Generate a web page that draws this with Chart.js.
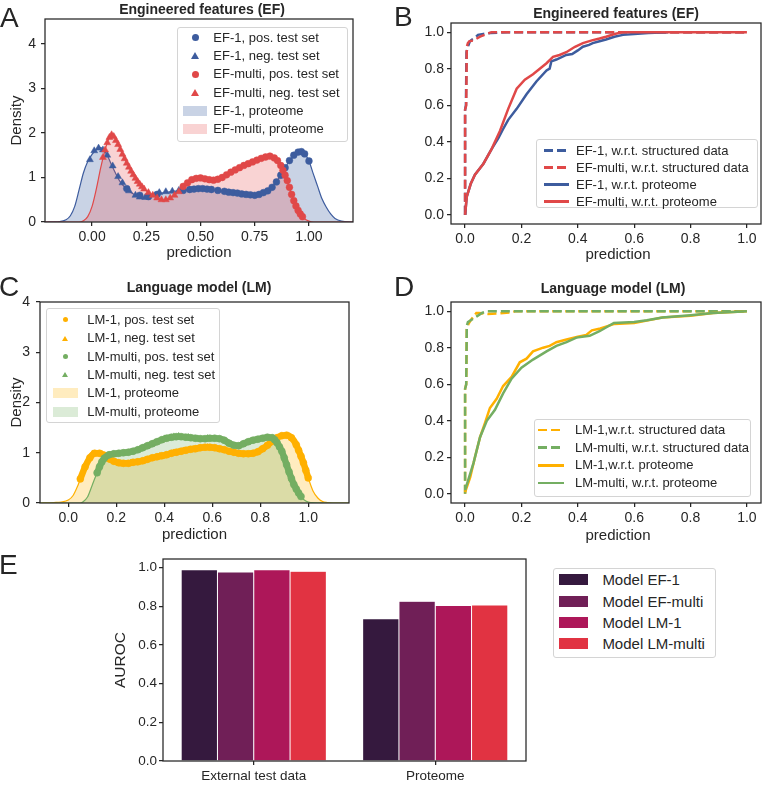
<!DOCTYPE html>
<html>
<head>
<meta charset="utf-8">
<script src="https://cdn.jsdelivr.net/npm/chart.js@4.4.1/dist/chart.umd.min.js"></script>
<style>
  body { margin: 0; background: #fff; }
  #fig { position: relative; width: 762px; height: 786px; background: #fff; overflow: hidden;
         font-family: 'Liberation Sans', Arial, Helvetica, sans-serif; color: #262626; }
  canvas { position: absolute; }
  .letter { position: absolute; font-size: 28px; line-height: 28px; }
  .ptitle { position: absolute; width: 300px; text-align: center; font-size: 14px; line-height: 14px; font-weight: bold; }
  .xlab { position: absolute; width: 200px; text-align: center; font-size: 15px; line-height: 18px; }
  .leg { position: absolute; box-sizing: border-box; border: 1px solid #d4d4d4; border-radius: 3px;
         background: rgba(255,255,255,0.8); }
  .leg div { position: absolute; white-space: nowrap; }
</style>
</head>
<body>
<div id="fig">
  <canvas id="cA" width="381" height="262" style="left:0;top:0"></canvas>
  <canvas id="cB" width="381" height="262" style="left:381px;top:0"></canvas>
  <canvas id="cC" width="381" height="282" style="left:0;top:262px"></canvas>
  <canvas id="cD" width="381" height="282" style="left:381px;top:262px"></canvas>
  <canvas id="cE" width="540" height="244" style="left:0;top:542px"></canvas>

  <div class="letter" style="left:0;top:4px">A</div>
  <div class="letter" style="left:394px;top:3px">B</div>
  <div class="letter" style="left:-1px;top:273px">C</div>
  <div class="letter" style="left:394px;top:273px">D</div>
  <div class="letter" style="left:-1px;top:551px">E</div>

  <div class="ptitle" style="left:52px;top:2px">Engineered features (EF)</div>
  <div class="ptitle" style="left:466px;top:6px">Engineered features (EF)</div>
  <div class="ptitle" style="left:49px;top:280px">Language model (LM)</div>
  <div class="ptitle" style="left:463px;top:281px">Language model (LM)</div>

  <div class="xlab" style="left:518px;top:245px">prediction</div>
  <div class="xlab" style="left:518px;top:526px">prediction</div>
</div>

<script>
const FONT = "'Liberation Sans', Arial, Helvetica, sans-serif";
const INK = '#262626';

const BLUE = '#3d5c9e', RED = '#e04848', ORANGE = '#ffb000', GREEN = '#74ae62';
const BLUE_FILL = 'rgba(76,108,170,0.30)', RED_FILL = 'rgba(232,80,80,0.25)';
const ORANGE_FILL = 'rgba(255,180,0,0.25)', GREEN_FILL = 'rgba(110,175,95,0.25)';

// ---- Panel A: engineered features, density of predictions
const aXTicks = [0, 0.25, 0.5, 0.75, 1.0];
const aXLabels = ['0.00', '0.25', '0.50', '0.75', '1.00'];
const aYTicks = [0, 1, 2, 3, 4];
const aYLabels = ['0', '1', '2', '3', '4'];

const aX_ef1Prot = [-0.217,-0.15,-0.12,-0.10,-0.08,-0.06,-0.04,-0.02,0.0,0.02,0.035,0.05,0.07,0.09,0.11,0.13,0.16,0.20,0.24,0.28,0.32,0.36,0.40,0.45,0.50,0.55,0.60,0.65,0.70,0.75,0.78,0.81,0.84,0.87,0.90,0.92,0.94,0.96,0.98,1.00,1.02,1.04,1.06,1.08,1.10,1.12,1.15,1.203];
const aY_ef1Prot = [0,0.01,0.05,0.14,0.35,0.72,1.1,1.36,1.52,1.63,1.67,1.64,1.5,1.28,1.08,0.9,0.74,0.6,0.56,0.6,0.65,0.68,0.7,0.72,0.75,0.73,0.69,0.66,0.63,0.61,0.62,0.7,0.85,1.05,1.3,1.43,1.54,1.58,1.53,1.37,1.08,0.8,0.52,0.33,0.18,0.08,0.02,0];
const aX_efmProt = [-0.217,-0.06,-0.04,-0.02,0.0,0.02,0.04,0.06,0.075,0.09,0.10,0.12,0.14,0.16,0.18,0.20,0.22,0.25,0.28,0.31,0.33,0.36,0.39,0.42,0.45,0.48,0.51,0.54,0.57,0.60,0.63,0.67,0.71,0.75,0.79,0.82,0.84,0.86,0.88,0.90,0.92,0.94,0.96,0.98,1.00,1.02,1.203];
const aY_efmProt = [0,0,0.03,0.12,0.35,0.75,1.22,1.62,1.85,1.96,1.93,1.74,1.52,1.32,1.14,0.98,0.85,0.7,0.6,0.52,0.49,0.54,0.65,0.8,0.92,0.98,0.99,0.96,0.94,1.0,1.09,1.2,1.3,1.38,1.45,1.48,1.45,1.38,1.18,0.93,0.62,0.36,0.18,0.07,0.02,0,0];

const aX_ef1Pos = [0.16,0.22,0.26,0.30,0.42,0.45,0.47,0.49,0.51,0.53,0.55,0.58,0.61,0.63,0.65,0.67,0.69,0.71,0.73,0.75,0.77,0.79,0.81,0.83,0.85,0.87,0.89,0.91,0.93,0.95,0.965,0.98,1.0];
const aY_ef1Pos = [0.75,0.6,0.57,0.62,0.71,0.73,0.74,0.75,0.75,0.74,0.73,0.71,0.69,0.67,0.66,0.65,0.63,0.62,0.61,0.6,0.62,0.66,0.7,0.78,0.9,1.05,1.22,1.38,1.5,1.57,1.58,1.53,1.37];
const aX_ef1Neg = [-0.01,0.01,0.03,0.05,0.07,0.095,0.12,0.14,0.17,0.20,0.22,0.245,0.31,0.34,0.37,0.40];
const aY_ef1Neg = [1.4,1.6,1.66,1.62,1.5,1.26,1.02,0.88,0.7,0.6,0.56,0.55,0.66,0.68,0.69,0.71];
const aX_efmPos = [0.42,0.44,0.46,0.48,0.50,0.52,0.54,0.56,0.58,0.60,0.62,0.64,0.66,0.68,0.70,0.72,0.74,0.76,0.78,0.80,0.82,0.84,0.855,0.87,0.88,0.89,0.90,0.91,0.92,0.93,0.94,0.95,0.96,0.97];
const aY_efmPos = [0.8,0.88,0.95,0.98,0.99,0.97,0.95,0.94,0.96,1.0,1.06,1.12,1.17,1.22,1.27,1.31,1.35,1.39,1.43,1.46,1.48,1.44,1.38,1.27,1.16,1.05,0.93,0.78,0.62,0.48,0.36,0.26,0.18,0.12];
const aX_efmNeg = [0.05,0.06,0.07,0.08,0.09,0.10,0.11,0.12,0.13,0.14,0.15,0.16,0.17,0.18,0.19,0.20,0.21,0.22,0.23,0.24,0.26,0.28,0.30,0.32,0.34,0.36,0.38,0.40];
const aY_efmNeg = [1.45,1.62,1.78,1.9,1.96,1.92,1.83,1.74,1.63,1.52,1.42,1.32,1.23,1.14,1.06,0.98,0.91,0.85,0.79,0.74,0.66,0.6,0.54,0.5,0.5,0.54,0.6,0.68];

const aLegend = ['EF-1, pos. test set', 'EF-1, neg. test set', 'EF-multi, pos. test set', 'EF-multi, neg. test set', 'EF-1, proteome', 'EF-multi, proteome'];

// ---- Panel B: engineered features, cumulative curves
const rocTicks = [0, 0.2, 0.4, 0.6, 0.8, 1.0];
const rocLabels = ['0.0', '0.2', '0.4', '0.6', '0.8', '1.0'];

const bX_ef1Struct = [0,0,0.003,0.005,0.01,0.017,0.025,0.034,0.046,0.065,0.09,0.15,1.0];
const bY_ef1Struct = [0,0.575,0.6,0.89,0.92,0.95,0.96,0.967,0.985,0.99,0.995,1.0,1.0];
const bX_efmStruct = [0,0,0.004,0.006,0.01,0.015,0.03,0.053,0.077,0.094,1.0];
const bY_efmStruct = [0,0.575,0.6,0.92,0.94,0.95,0.955,0.975,0.99,1.0,1.0];
const bX_ef1Prot = [0,0.006,0.02,0.035,0.065,0.094,0.118,0.135,0.153,0.183,0.218,0.253,0.289,0.30,0.306,0.324,0.359,0.38,0.40,0.418,0.44,0.453,0.477,0.50,0.53,0.56,0.60,0.65,0.72];
const bY_ef1Prot = [0,0.1,0.17,0.22,0.28,0.36,0.42,0.47,0.52,0.58,0.66,0.73,0.79,0.80,0.84,0.85,0.875,0.88,0.9,0.92,0.93,0.94,0.95,0.96,0.975,0.985,0.99,0.995,1.0];
const bX_efmProt = [0,0.006,0.02,0.035,0.065,0.094,0.124,0.153,0.183,0.212,0.241,0.265,0.289,0.312,0.335,0.359,0.39,0.418,0.45,0.477,0.50,0.53,0.56,1.0];
const bY_efmProt = [0,0.1,0.17,0.22,0.28,0.36,0.46,0.58,0.69,0.74,0.77,0.8,0.83,0.865,0.875,0.89,0.92,0.94,0.955,0.965,0.975,0.99,1.0,1.0];

const bLegend = ['EF-1, w.r.t. structured data', 'EF-multi, w.r.t. structured data', 'EF-1, w.r.t. proteome', 'EF-multi, w.r.t. proteome'];

// ---- Panel C: language model, density of predictions
const cXTicks = [0, 0.2, 0.4, 0.6, 0.8, 1.0];
const cXLabels = ['0.0', '0.2', '0.4', '0.6', '0.8', '1.0'];

const cX_lm1Prot = [-0.118,-0.06,-0.03,0.0,0.02,0.04,0.06,0.08,0.10,0.12,0.14,0.16,0.19,0.22,0.26,0.30,0.34,0.38,0.42,0.46,0.50,0.54,0.58,0.62,0.66,0.70,0.74,0.78,0.81,0.84,0.87,0.90,0.92,0.94,0.96,0.98,1.00,1.02,1.04,1.06,1.08,1.10,1.17];
const cY_lm1Prot = [0,0.01,0.02,0.06,0.15,0.35,0.6,0.83,0.97,1.0,0.97,0.9,0.83,0.79,0.8,0.83,0.88,0.93,0.98,1.02,1.06,1.09,1.11,1.1,1.05,1.0,0.98,1.0,1.08,1.2,1.3,1.35,1.32,1.22,1.05,0.79,0.5,0.24,0.1,0.03,0.01,0,0];
const cX_lmmProt = [-0.118,0.05,0.06,0.08,0.10,0.12,0.14,0.16,0.18,0.20,0.24,0.28,0.32,0.36,0.40,0.44,0.48,0.52,0.56,0.60,0.64,0.67,0.70,0.73,0.76,0.80,0.83,0.85,0.87,0.89,0.91,0.93,0.95,0.97,0.99,1.01,1.17];
const cY_lmmProt = [0,0,0.02,0.12,0.36,0.6,0.8,0.93,0.98,0.99,1.01,1.06,1.13,1.2,1.27,1.31,1.32,1.3,1.28,1.29,1.26,1.19,1.14,1.17,1.23,1.28,1.31,1.29,1.21,1.04,0.76,0.48,0.27,0.12,0.04,0.01,0];

const cX_lm1Pos = [0.05,0.07,0.09,0.11,0.13,0.15,0.17,0.19,0.21,0.23,0.25,0.27,0.29,0.31,0.33,0.35,0.37,0.39,0.41,0.43,0.45,0.47,0.49,0.51,0.53,0.55,0.57,0.59,0.61,0.63,0.65,0.67,0.69,0.71,0.73,0.75,0.77,0.79,0.81,0.83,0.85,0.87,0.89,0.91,0.93,0.95,0.96,0.97,0.98,0.99,1.00];
const cY_lm1Pos = [0.48,0.72,0.9,0.99,0.99,0.95,0.88,0.83,0.8,0.79,0.79,0.81,0.82,0.84,0.87,0.9,0.92,0.94,0.96,0.99,1.01,1.03,1.05,1.07,1.08,1.1,1.11,1.11,1.1,1.08,1.06,1.03,1.01,0.99,0.98,0.98,0.99,1.02,1.08,1.15,1.23,1.3,1.34,1.35,1.3,1.16,1.05,0.93,0.8,0.65,0.5];
const cX_lm1Neg = [0.10,0.14,0.18,0.26,0.32,0.38,0.44,0.48,0.52,0.58];
const cY_lm1Neg = [0.98,0.97,0.85,0.8,0.85,0.93,1.0,1.04,1.07,1.11];
const cX_lmmPos = [0.12,0.13,0.14,0.15,0.17,0.19,0.21,0.23,0.25,0.27,0.29,0.31,0.33,0.35,0.37,0.39,0.41,0.43,0.45,0.47,0.49,0.51,0.53,0.55,0.57,0.59,0.61,0.63,0.65,0.67,0.69,0.71,0.73,0.75,0.77,0.79,0.81,0.83,0.85,0.86,0.87,0.88,0.89,0.90,0.91,0.92,0.93,0.94,0.95,0.96,0.97];
const cY_lmmPos = [0.6,0.72,0.82,0.89,0.96,0.98,0.99,1.0,1.01,1.03,1.06,1.1,1.14,1.18,1.22,1.26,1.29,1.31,1.32,1.32,1.31,1.3,1.29,1.28,1.28,1.29,1.29,1.28,1.25,1.19,1.15,1.14,1.18,1.22,1.25,1.27,1.29,1.31,1.3,1.26,1.2,1.12,1.03,0.9,0.76,0.62,0.49,0.37,0.28,0.2,0.13];
const cX_lmmNeg = [0.30,0.36,0.40,0.44,0.46,0.50,0.54,0.58];
const cY_lmmNeg = [1.08,1.2,1.28,1.32,1.33,1.31,1.28,1.29];

const cLegend = ['LM-1, pos. test set', 'LM-1, neg. test set', 'LM-multi, pos. test set', 'LM-multi, neg. test set', 'LM-1, proteome', 'LM-multi, proteome'];

// ---- Panel D: language model, cumulative curves
const dX_lm1Struct = [0,0,0.004,0.006,0.012,0.02,0.03,0.04,0.05,0.08,0.12,0.165,0.18,1.0];
const dY_lm1Struct = [0,0.575,0.6,0.9,0.93,0.95,0.97,0.99,0.99,0.985,0.988,0.993,1.0,1.0];
const dX_lmmStruct = [0,0,0.004,0.006,0.01,0.02,0.04,0.06,0.08,1.0];
const dY_lmmStruct = [0,0.575,0.6,0.92,0.94,0.95,0.97,0.99,1.0,1.0];
const dX_lm1Prot = [0,0.018,0.035,0.053,0.071,0.088,0.112,0.135,0.165,0.194,0.218,0.241,0.277,0.30,0.324,0.36,0.40,0.43,0.45,0.48,0.53,0.60,0.645,0.70,0.80,0.88,0.95,1.0];
const dY_lm1Prot = [0.01,0.09,0.2,0.31,0.39,0.47,0.52,0.59,0.64,0.72,0.74,0.78,0.8,0.81,0.83,0.845,0.86,0.87,0.895,0.905,0.93,0.935,0.948,0.965,0.975,0.99,0.995,1.0];
const dX_lmmProt = [0,0.03,0.053,0.077,0.106,0.135,0.165,0.2,0.241,0.289,0.324,0.36,0.395,0.442,0.477,0.528,0.60,0.645,0.70,0.80,0.88,1.0];
const dY_lmmProt = [0.02,0.17,0.31,0.4,0.46,0.55,0.63,0.69,0.735,0.78,0.81,0.83,0.855,0.865,0.89,0.935,0.94,0.95,0.965,0.978,0.99,1.0];

const dLegend = ['LM-1,w.r.t. structured data', 'LM-multi, w.r.t. structured data', 'LM-1,w.r.t. proteome', 'LM-multi, w.r.t. proteome'];

// ---- Panel E: AUROC per model
const eCategories = ['External test data', 'Proteome'];
const eModels = ['Model EF-1', 'Model EF-multi', 'Model LM-1', 'Model LM-multi'];
const eColors = ['#35193e', '#701f57', '#ad1759', '#e13342'];
const eAUROC_EF1 = [0.99, 0.736];
const eAUROC_EFm = [0.978, 0.827];
const eAUROC_LM1 = [0.99, 0.805];
const eAUROC_LMm = [0.982, 0.807];
const eYTicks = [0, 0.2, 0.4, 0.6, 0.8, 1.0];
const eYLabels = ['0.0', '0.2', '0.4', '0.6', '0.8', '1.0'];


function pts(xs, ys) {
  return xs.map((x, i) => ({ x: x, y: ys[i] }));
}

// box around the plot area (seaborn "ticks" style keeps all four spines)
const frame = {
  id: 'frame',
  afterDatasetsDraw(chart) {
    const a = chart.chartArea, ctx = chart.ctx;
    ctx.save();
    ctx.strokeStyle = INK;
    ctx.lineWidth = 1.25;
    ctx.strokeRect(a.left, a.top, a.right - a.left, a.bottom - a.top);
    ctx.restore();
  }
};

function axis(o) {
  const ax = {
    type: o.type || 'linear',
    afterFit: (s) => { if (s.isHorizontal()) s.height = o.size; else s.width = o.size; },
    ticks: { autoSkip: false, maxRotation: 0, padding: o.pad, color: INK,
             font: { family: FONT, size: o.font || 14 } },
    grid: { drawOnChartArea: false, tickLength: 4, color: INK, lineWidth: 1.25, offset: false },
    border: { display: false },
    title: { display: !!o.title, text: o.title || '', color: INK,
             font: { family: FONT, size: o.titleSize || 15 }, padding: o.titlePad || 0 }
  };
  if (o.min !== undefined) { ax.min = o.min; ax.max = o.max; }
  if (o.ticks) {
    ax.afterBuildTicks = (s) => { s.ticks = o.ticks.map(v => ({ value: v })); };
    ax.ticks.callback = (v, i) => o.labels[i];
  }
  return ax;
}

// band = width of a same-coloured line under densely packed markers
function markers(xs, ys, color, style, r, band) {
  return { data: pts(xs, ys), showLine: !!band, borderColor: color, borderWidth: band || 0,
           pointStyle: style, pointRadius: r, cubicInterpolationMode: 'monotone',
           pointBackgroundColor: color, pointBorderColor: color, pointBorderWidth: 0.5 };
}
function density(xs, ys, color, fillColor) {
  return { data: pts(xs, ys), pointRadius: 0, borderColor: color, borderWidth: 1.2,
           backgroundColor: fillColor, fill: 'origin', cubicInterpolationMode: 'monotone' };
}
function curve(xs, ys, color, dashed) {
  return { data: pts(xs, ys), pointRadius: 0, borderColor: color, borderWidth: 2.5,
           borderDash: dashed ? [9, 4] : [], fill: false, tension: 0 };
}

function lineChart(id, datasets, x, y, pad) {
  return new Chart(document.getElementById(id), {
    type: 'line',
    data: { datasets: datasets },
    options: {
      responsive: false, animation: false, devicePixelRatio: 1,
      layout: { padding: pad },
      plugins: { legend: { display: false }, tooltip: { enabled: false } },
      scales: { x: axis(x), y: axis(y) }
    },
    plugins: [frame]
  });
}

// first dataset is drawn on top
lineChart('cA', [
  markers(aX_efmNeg, aY_efmNeg, RED, 'triangle', 4),
  markers(aX_efmPos, aY_efmPos, RED, 'circle', 3.4),
  markers(aX_ef1Neg, aY_ef1Neg, BLUE, 'triangle', 4),
  markers(aX_ef1Pos, aY_ef1Pos, BLUE, 'circle', 3.4),
  density(aX_efmProt, aY_efmProt, RED, RED_FILL),
  density(aX_ef1Prot, aY_ef1Prot, BLUE, BLUE_FILL)
],
{ min: -0.217, max: 1.203, ticks: aXTicks, labels: aXLabels, size: 40, pad: 3, title: 'prediction', titlePad: { top: 0, bottom: 0 } },
{ min: 0, max: 4.56, ticks: aYTicks, labels: aYLabels, size: 45, pad: 5, title: 'Density', titlePad: { top: 7.7, bottom: 0 } },
{ left: 0, top: 19, right: 28, bottom: 0 });

lineChart('cB', [
  curve(bX_efmProt, bY_efmProt, RED, false),
  curve(bX_ef1Prot, bY_ef1Prot, BLUE, false),
  curve(bX_efmStruct, bY_efmStruct, RED, true),
  curve(bX_ef1Struct, bY_ef1Struct, BLUE, true)
],
{ min: -0.05, max: 1.05, ticks: rocTicks, labels: rocLabels, size: 38, pad: 3 },
{ min: -0.05, max: 1.05, ticks: rocTicks, labels: rocLabels, size: 70, pad: 3 },
{ left: 0, top: 23, right: 1, bottom: 0 });

lineChart('cC', [
  markers(cX_lmmNeg, cY_lmmNeg, GREEN, 'triangle', 3.8),
  markers(cX_lmmPos, cY_lmmPos, GREEN, 'circle', 3.5, 6.5),
  markers(cX_lm1Neg, cY_lm1Neg, ORANGE, 'triangle', 3.8),
  markers(cX_lm1Pos, cY_lm1Pos, ORANGE, 'circle', 3.5, 6.5),
  density(cX_lmmProt, cY_lmmProt, GREEN, GREEN_FILL),
  density(cX_lm1Prot, cY_lm1Prot, ORANGE, ORANGE_FILL)
],
{ min: -0.118, max: 1.17, ticks: cXTicks, labels: cXLabels, size: 41, pad: 3, title: 'prediction', titlePad: { top: 0, bottom: 0 } },
{ min: 0, max: 4, ticks: aYTicks, labels: aYLabels, size: 40, pad: 6, title: 'Density', titlePad: { top: 7.7, bottom: 0 } },
{ left: 0, top: 40, right: 32, bottom: 0 });

lineChart('cD', [
  curve(dX_lmmProt, dY_lmmProt, GREEN, false),
  curve(dX_lm1Prot, dY_lm1Prot, ORANGE, false),
  curve(dX_lmmStruct, dY_lmmStruct, GREEN, true),
  curve(dX_lm1Struct, dY_lm1Struct, ORANGE, true)
],
{ min: -0.05, max: 1.05, ticks: rocTicks, labels: rocLabels, size: 41, pad: 3 },
{ min: -0.05, max: 1.05, ticks: rocTicks, labels: rocLabels, size: 70, pad: 3 },
{ left: 0, top: 40, right: 1, bottom: 0 });

const eValues = [eAUROC_EF1, eAUROC_EFm, eAUROC_LM1, eAUROC_LMm];
new Chart(document.getElementById('cE'), {
  type: 'bar',
  data: {
    labels: eCategories,
    datasets: eModels.map((m, i) => ({
      label: m, data: eValues[i], backgroundColor: eColors[i],
      borderColor: '#ffffff', borderWidth: { top: 0.5, left: 0.5, right: 0.5, bottom: 0 },
      barPercentage: 1.0, categoryPercentage: 0.8
    }))
  },
  options: {
    responsive: false, animation: false, devicePixelRatio: 1,
    layout: { padding: { left: 0, top: 17, right: 14, bottom: 0 } },
    plugins: { legend: { display: false }, tooltip: { enabled: false } },
    scales: {
      x: axis({ type: 'category', size: 25, pad: 3, font: 13.5 }),
      y: axis({ min: 0, max: 1.045, ticks: eYTicks, labels: eYLabels, size: 163, pad: 2, font: 13.5,
                title: 'AUROC', titleSize: 15.5, titlePad: { top: 111.7, bottom: 0 } })
    }
  },
  plugins: [frame]
});

// ---- legends (html, laid over the charts)
const fig = document.getElementById('fig');
function legend(spec, labels, kinds, colors) {
  const box = document.createElement('div');
  box.className = 'leg';
  box.style.cssText = `left:${spec.left}px;top:${spec.top}px;width:${spec.w}px;height:${spec.h}px;font-size:${spec.font}px`;
  labels.forEach((lab, i) => {
    const cy = spec.row0 + spec.step * i - 1;
    const sx = spec.symX - 1;
    const c = colors[i];
    const sym = document.createElement('div');
    const m = spec.mk || 7;
    if (kinds[i] === 'dot') {
      sym.style.cssText = `left:${sx - m / 2}px;top:${cy - m / 2}px;width:${m}px;height:${m}px;border-radius:50%;background:${c}`;
    } else if (kinds[i] === 'tri') {
      sym.style.cssText = `left:${sx - m / 2 - 0.5}px;top:${cy - m / 2}px;width:0;height:0;border-left:${m / 2 + 0.5}px solid transparent;border-right:${m / 2 + 0.5}px solid transparent;border-bottom:${m}px solid ${c}`;
    } else if (kinds[i] === 'patch') {
      const h = spec.symH || 10;
      sym.style.cssText = `left:${sx - spec.symW / 2}px;top:${cy - h / 2}px;width:${spec.symW}px;height:${h}px;background:${c}`;
    } else {
      const bg = kinds[i] === 'dash'
        ? `repeating-linear-gradient(to right, ${c} 0 9px, transparent 9px 13px)` : c;
      sym.style.cssText = `left:${sx - spec.symW / 2}px;top:${cy - 1.25}px;width:${spec.symW}px;height:2.5px;background:${bg}`;
    }
    box.appendChild(sym);
    const t = document.createElement('div');
    t.textContent = lab;
    const lh = Math.round(spec.font * 1.4);
    t.style.cssText = `left:${spec.textX - 1}px;top:${cy - lh / 2}px;line-height:${lh}px`;
    box.appendChild(t);
  });
  fig.appendChild(box);
}

const densKinds = ['dot', 'tri', 'dot', 'tri', 'patch', 'patch'];
const rocKinds = ['dash', 'dash', 'line', 'line'];

legend({ left: 176.7, top: 26.7, w: 171.6, h: 115, row0: 11, step: 18.3, symX: 18.5, symW: 24, textX: 36.6, font: 13, mk: 7 },
       aLegend, densKinds, [BLUE, BLUE, RED, RED, BLUE_FILL, RED_FILL]);
legend({ left: 536, top: 139.3, w: 222, h: 69, row0: 11.4, step: 17, symX: 20.8, symW: 25, textX: 40, font: 13 },
       bLegend, rocKinds, [BLUE, RED, BLUE, RED]);
legend({ left: 46, top: 308.3, w: 174, h: 115, row0: 11.7, step: 18.33, symX: 19.3, symW: 25.6, textX: 41.3, font: 13, mk: 5 },
       cLegend, densKinds, [ORANGE, ORANGE, GREEN, GREEN, ORANGE_FILL, GREEN_FILL]);
legend({ left: 533.7, top: 419.3, w: 217.3, h: 77.4, row0: 10.7, step: 17.7, symX: 17, symW: 26, textX: 41.3, font: 13 },
       dLegend, rocKinds, [ORANGE, GREEN, ORANGE, GREEN]);
legend({ left: 552.7, top: 567.7, w: 163, h: 90, row0: 12.3, step: 21.3, symX: 20.5, symW: 29.3, symH: 11, textX: 49.7, font: 15 },
       eModels, ['patch', 'patch', 'patch', 'patch'], eColors);
</script>
</body>
</html>
